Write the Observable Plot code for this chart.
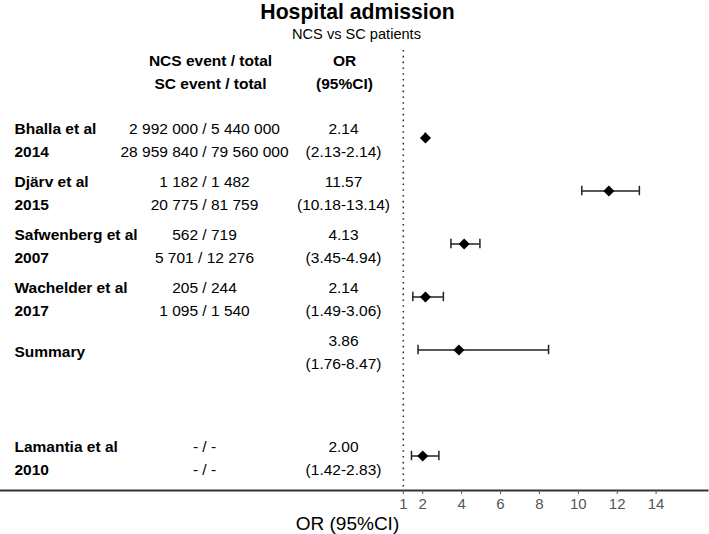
<!DOCTYPE html>
<html><head><meta charset="utf-8">
<script src="https://cdn.jsdelivr.net/npm/d3@7"></script>
<script src="https://cdn.jsdelivr.net/npm/@observablehq/plot@0.6"></script>
<style>
body{margin:0;background:#fff;font-family:"Liberation Sans",Arial,Helvetica,sans-serif;color:#000;}
#title{font-size:21.2px;font-weight:bold;text-align:center;line-height:24px;height:24px;padding-left:6px}
#subtitle{font-size:14.6px;text-align:center;line-height:20px;height:20px;margin-bottom:4px;padding-left:4px}
</style></head><body>
<div id="title">Hospital admission</div>
<div id="subtitle">NCS vs SC patients</div>
<div id="chart"></div>
<script>
const studyNames = ["Bhalla et al", "Djärv et al", "Safwenberg et al", "Wachelder et al", "Summary", "", "Lamantia et al"];
const studyYears = ["2014", "2015", "2007", "2017", "", "", "2010"];
const ncsEvents = ["2 992 000 / 5 440 000", "1 182 / 1 482", "562 / 719", "205 / 244", "", "", "- / -"];
const scEvents = ["28 959 840 / 79 560 000", "20 775 / 81 759", "5 701 / 12 276", "1 095 / 1 540", "", "", "- / -"];
const orValues = [2.14, 11.57, 4.13, 2.14, 3.86, null, 2.00];
const ciLower = [2.13, 10.18, 3.45, 1.49, 1.76, null, 1.42];
const ciUpper = [2.14, 13.14, 4.94, 3.06, 8.47, null, 2.83];
const xTicks = [1, 2, 4, 6, 8, 10, 12, 14];
const headerEvents = "NCS event / total\nSC event / total";
const headerOR = "OR\n(95%CI)";
const xLabel = "OR (95%CI)";

const rows = studyNames.map((name, i) => ({
  i,
  label: studyYears[i] ? name + "\n" + studyYears[i] : name,
  events: ncsEvents[i] ? ncsEvents[i] + "\n" + scEvents[i] : "",
  orText: orValues[i] != null ? orValues[i].toFixed(2) + "\n(" + ciLower[i].toFixed(2) + "-" + ciUpper[i].toFixed(2) + ")" : "",
  or: orValues[i], lo: ciLower[i], hi: ciUpper[i]
}));
const ciRows = rows.filter(d => d.or != null);

const font = "'Liberation Sans', Arial, Helvetica, sans-serif";
const chart = Plot.plot({
  width: 709, height: 486,
  marginLeft: 0, marginRight: 2, marginTop: 2, marginBottom: 44,
  style: {fontFamily: font, fontSize: "15.5px", color: "#000", background: "#fff"},
  x: {domain: [1, 14], insetLeft: 402.8, insetRight: 51.4},
  y: {type: "band", domain: d3.range(studyNames.length), padding: 0, insetTop: 59.2, insetBottom: 5.5, axis: null},
  marks: [
    Plot.ruleX([1], {stroke: "#333", strokeWidth: 1.6, strokeDasharray: "1.6,4.2"}),
    Plot.frame({anchor: "bottom", stroke: "#333", strokeWidth: 2}),
    Plot.axisX({ticks: xTicks, tickSize: 4, tickPadding: 4, fontSize: 15, color: "#555", label: null}),
    Plot.text([xLabel], {frameAnchor: "bottom", lineAnchor: "middle", dx: -6.5, dy: 33, fontSize: 19, fill: "#000"}),
    Plot.text([headerEvents], {frameAnchor: "top-left", lineAnchor: "middle", dx: 210, dy: 20, textAnchor: "middle", fontWeight: "bold", lineHeight: 1.45}),
    Plot.text([headerOR], {frameAnchor: "top-left", lineAnchor: "middle", dx: 344, dy: 20, textAnchor: "middle", fontWeight: "bold", lineHeight: 1.45}),
    Plot.text(rows, {y: "i", text: "label", frameAnchor: "left", dx: 14, textAnchor: "start", fontWeight: "bold", lineHeight: 1.5}),
    Plot.text(rows, {y: "i", text: "events", frameAnchor: "left", dx: 204, textAnchor: "middle", lineHeight: 1.5}),
    Plot.text(rows, {y: "i", text: "orText", frameAnchor: "left", dx: 343, textAnchor: "middle", lineHeight: 1.5}),
    Plot.ruleY(ciRows, {y: "i", x1: "lo", x2: "hi", stroke: "#222", strokeWidth: 1.5}),
    Plot.tickX(ciRows, {x: "lo", y: "i", stroke: "#222", strokeWidth: 1.5, insetTop: 21.8, insetBottom: 21.8}),
    Plot.tickX(ciRows, {x: "hi", y: "i", stroke: "#222", strokeWidth: 1.5, insetTop: 21.8, insetBottom: 21.8}),
    Plot.dot(ciRows, {x: "or", y: "i", symbol: "diamond2", r: 5, fill: "#000", stroke: null})
  ]
});
document.getElementById("chart").appendChild(chart);
</script>
</body></html>
